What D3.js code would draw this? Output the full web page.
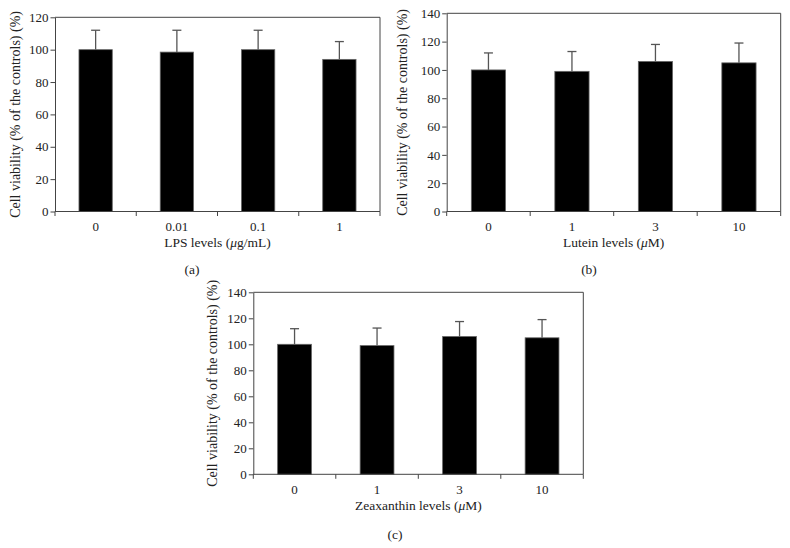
<!DOCTYPE html>
<html>
<head>
<meta charset="utf-8">
<script src="https://cdn.jsdelivr.net/npm/d3@7"></script>
<style>
  body { margin: 0; background: #fff; }
  svg text { font-family: "Liberation Serif", "DejaVu Serif", serif; fill: #222; }
</style>
</head>
<body>
<div id="chart"></div>
<script>
// data
const lpsLevels = ['0', '0.01', '0.1', '1'];
const lpsMeans = [100, 98.5, 100, 94];
const lpsErr = [12, 13.5, 12, 11];

const luteinLevels = ['0', '1', '3', '10'];
const luteinMeans = [100, 99, 106, 105];
const luteinErr = [12, 14, 12, 14];

const zeaLevels = ['0', '1', '3', '10'];
const zeaMeans = [100, 99, 106, 105];
const zeaErr = [12, 13.5, 11.5, 14];

const yTicksA = [0, 20, 40, 60, 80, 100, 120];
const yTicksBC = [0, 20, 40, 60, 80, 100, 120, 140];

const yTitle = 'Cell viability (% of the controls) (%)';

const svg = d3.select('#chart').append('svg')
    .attr('width', 790)
    .attr('height', 548);

function panel(opts) {
    const g = svg.append('g');
    const x = d3.scaleBand()
        .domain(opts.cats)
        .range([opts.left, opts.right])
        .paddingInner(0.59)
        .paddingOuter(0.295);
    const y = d3.scaleLinear()
        .domain([0, opts.yMax])
        .range([opts.bottom, opts.top]);

    // frame (top + right)
    g.append('path')
        .attr('d', `M${opts.left},${opts.top}H${opts.right}V${opts.bottom}`)
        .attr('fill', 'none')
        .attr('stroke', '#444')
        .attr('stroke-width', 1);

    const data = opts.cats.map((c, i) => ({ c, v: opts.means[i], e: opts.err[i] }));

    // error bars (upper only)
    const eb = g.append('g').selectAll('g').data(data).join('g');
    eb.append('line')
        .attr('x1', d => x(d.c) + x.bandwidth() / 2)
        .attr('x2', d => x(d.c) + x.bandwidth() / 2)
        .attr('y1', d => y(d.v))
        .attr('y2', d => y(d.v + d.e))
        .attr('stroke', '#555')
        .attr('stroke-width', 1.3);
    eb.append('line')
        .attr('x1', d => x(d.c) + x.bandwidth() / 2 - 4.5)
        .attr('x2', d => x(d.c) + x.bandwidth() / 2 + 4.5)
        .attr('y1', d => y(d.v + d.e))
        .attr('y2', d => y(d.v + d.e))
        .attr('stroke', '#555')
        .attr('stroke-width', 1.3);

    g.append('g').selectAll('rect').data(data).join('rect')
        .attr('x', d => x(d.c))
        .attr('y', d => y(d.v))
        .attr('width', x.bandwidth())
        .attr('height', d => y(0) - y(d.v))
        .attr('fill', '#000')
        .attr('stroke', '#666')
        .attr('stroke-width', 0.8);

    // y axis
    const yAxis = g.append('g')
        .attr('transform', `translate(${opts.left},0)`)
        .call(d3.axisLeft(y).tickValues(opts.yTicks).tickSize(4.5).tickPadding(2).tickSizeOuter(0));
    yAxis.select('.domain').attr('stroke', '#444');
    yAxis.selectAll('.tick line').attr('stroke', '#444');
    yAxis.selectAll('.tick text')
        .style('font-size', '13px')
        .attr('fill', '#222');

    // x axis: line + ticks at category boundaries
    const step = x.step();
    const bounds = d3.range(opts.cats.length + 1).map(i => opts.left + i * step);
    g.append('line')
        .attr('x1', opts.left).attr('x2', opts.right)
        .attr('y1', opts.bottom).attr('y2', opts.bottom)
        .attr('stroke', '#444');
    g.append('g').selectAll('line').data(bounds).join('line')
        .attr('x1', d => d).attr('x2', d => d)
        .attr('y1', opts.bottom).attr('y2', opts.bottom + 4.5)
        .attr('stroke', '#444');
    g.append('g').selectAll('text').data(opts.cats).join('text')
        .attr('x', d => x(d) + x.bandwidth() / 2)
        .attr('y', opts.bottom + 15)
        .attr('dy', '0.35em')
        .attr('text-anchor', 'middle')
        .style('font-size', '13px')
        .text(d => d);

    // x title
    const xt = g.append('text')
        .attr('x', (opts.left + opts.right) / 2)
        .attr('y', opts.bottom + 31)
        .attr('dy', '0.35em')
        .attr('text-anchor', 'middle')
        .style('font-size', '13.5px');
    xt.append('tspan').text(opts.xPre);
    xt.append('tspan').style('font-style', 'italic').text('\u03bc');
    xt.append('tspan').text(opts.xPost);

    // y title
    g.append('text')
        .attr('transform', `translate(${opts.left - opts.titleOff},${(opts.top + opts.bottom) / 2}) rotate(-90)`)
        .attr('dy', '0.35em')
        .attr('text-anchor', 'middle')
        .style('font-size', '14px')
        .text(yTitle);

    // panel letter
    g.append('text')
        .attr('x', opts.letterX)
        .attr('y', opts.bottom + opts.letterDy)
        .attr('dy', '0.35em')
        .attr('text-anchor', 'middle')
        .style('font-size', '13.5px')
        .text(opts.letter);
}

panel({
    cats: lpsLevels, means: lpsMeans, err: lpsErr, yMax: 120, yTicks: yTicksA,
    left: 55, right: 380, top: 17.3, bottom: 211.5, titleOff: 40,
    xPre: 'LPS levels (', xPost: 'g/mL)', letter: '(a)', letterX: 192, letterDy: 58
});
panel({
    cats: luteinLevels, means: luteinMeans, err: luteinErr, yMax: 140, yTicks: yTicksBC,
    left: 446.7, right: 780.7, top: 13.3, bottom: 211.5, titleOff: 45,
    xPre: 'Lutein levels (', xPost: 'M)', letter: '(b)', letterX: 589, letterDy: 58
});
panel({
    cats: zeaLevels, means: zeaMeans, err: zeaErr, yMax: 140, yTicks: yTicksBC,
    left: 253.3, right: 583.3, top: 292.3, bottom: 474.3, titleOff: 41,
    xPre: 'Zeaxanthin levels (', xPost: 'M)', letter: '(c)', letterX: 395, letterDy: 60
});
</script>
</body>
</html>
